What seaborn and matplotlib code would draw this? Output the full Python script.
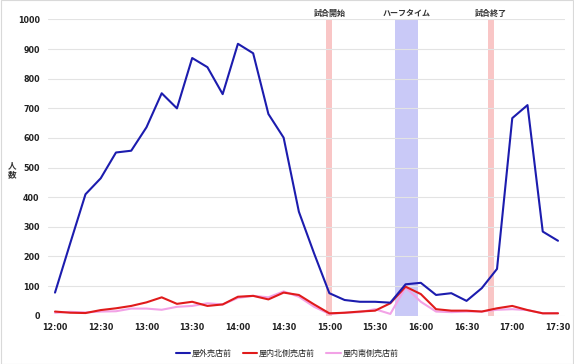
import numpy as np
import pandas as pd
import matplotlib
matplotlib.use("Agg")
import matplotlib.pyplot as plt
import seaborn as sns
from matplotlib.lines import Line2D

# ---------------- data ----------------
times = ["12:00", "12:10", "12:20", "12:30", "12:40", "12:50",
         "13:00", "13:10", "13:20", "13:30", "13:40", "13:50",
         "14:00", "14:10", "14:20", "14:30", "14:40", "14:50",
         "15:00", "15:10", "15:20", "15:30", "15:40", "15:50",
         "16:00", "16:10", "16:20", "16:30", "16:40", "16:50",
         "17:00", "17:10", "17:20", "17:30"]
outdoor = [78, 245, 410, 464, 551, 557, 636, 751, 700, 870, 839, 748,
           918, 886, 681, 601, 351, 210, 76, 53, 47, 47, 44, 106,
           111, 70, 76, 50, 93, 158, 667, 711, 284, 253]
indoor_north = [14, 10, 9, 19, 25, 33, 45, 62, 40, 47, 33, 38,
                64, 67, 55, 78, 70, 38, 8, 10, 14, 17, 42, 98,
                73, 22, 17, 17, 14, 25, 33, 19, 8, 8]
indoor_south = [10, 13, 11, 14, 15, 24, 24, 20, 30, 33, 42, 38,
                60, 67, 62, 82, 64, 30, 6, 10, 12, 22, 6, 96,
                47, 14, 12, 14, 14, 20, 22, 19, 8, 9]
series_names = ["屋外売店前", "屋内北側売店前", "屋内南側売店前"]
tick_labels = ["12:00", "12:30", "13:00", "13:30", "14:00", "14:30",
               "15:00", "15:30", "16:00", "16:30", "17:00", "17:30"]
event_names = ["試合開始", "ハーフタイム", "試合終了"]
event_start = ["14:58", "15:43", "16:44"]
event_end = ["15:02", "15:58", "16:48"]
y_label = "人\n数"


def to_min(t):
    h, m = t.split(":")
    return (int(h) - 12) * 60 + int(m)


x_min = [to_min(t) for t in times]
df = pd.DataFrame({
    "time": x_min * 3,
    "count": outdoor + indoor_north + indoor_south,
    "series": sum([[n] * len(times) for n in series_names], []),
})

# ---------------- style ----------------
sns.set_theme(style="white")
plt.rcParams["font.family"] = ["Noto Sans CJK JP", "DejaVu Sans"]

fig = plt.figure(figsize=(5.74, 3.64), dpi=100)
ax = fig.add_axes([48 / 574, 1 - 315.7 / 364, (565 - 48) / 574, (315.7 - 19.5) / 364])

ev_colors = ["#f9c6c6", "#c9c9f7", "#f9c6c6"]
for name, s, e, c in zip(event_names, event_start, event_end, ev_colors):
    a, b = to_min(s), to_min(e)
    ax.axvspan(a, b, ymin=0, ymax=1, color=c, lw=0, zorder=0.5)
    ax.text((a + b) / 2, 1022, name, ha="center", va="center",
            fontsize=5.8, color="#333333", fontweight="bold", clip_on=False)

palette = {series_names[0]: "#1c1cae", series_names[1]: "#e01b1b",
           series_names[2]: "#f2a2e6"}
sns.lineplot(data=df, x="time", y="count", hue="series", palette=palette,
             hue_order=series_names[::-1], linewidth=1.5, ax=ax, legend=False,
             zorder=3)

ax.set_xlim(-4.6, 334.6)
ax.set_ylim(0, 1000)
ax.set_yticks(np.arange(0, 1001, 100))
ax.set_xticks([to_min(t) for t in tick_labels])
ax.set_xticklabels(tick_labels)
for lab in ax.get_yticklabels() + ax.get_xticklabels():
    lab.set_fontfamily("DejaVu Sans")
    lab.set_fontweight("bold")
    lab.set_fontsize(5.8)
    lab.set_color("#222222")
ax.tick_params(axis="y", pad=6, length=0)
ax.tick_params(axis="x", pad=5, length=0)
ax.grid(axis="y", color="#e3e3e3", lw=0.8)
ax.set_axisbelow(True)
for sp in ax.spines.values():
    sp.set_visible(False)
ax.set_xlabel("")
ax.set_ylabel("")

fig.text(12 / 574, 1 - 170 / 364, y_label, ha="center", va="center",
         fontsize=6.2, fontweight="bold", color="#333333", linespacing=0.95)

handles = [Line2D([], [], color=palette[n], lw=1.5) for n in series_names]
fig.legend(handles, series_names, loc="center", bbox_to_anchor=(0.5, 1 - 353 / 364),
           ncol=3, frameon=False, fontsize=5.8, handlelength=1.8,
           columnspacing=1.4, handletextpad=0.2)

fig.patches.append(plt.Rectangle((0.001, 0.001), 0.998, 0.998, transform=fig.transFigure,
                                 fill=False, edgecolor="#d9d9d9", lw=0.8))

fig.savefig("out.png", dpi=100)
